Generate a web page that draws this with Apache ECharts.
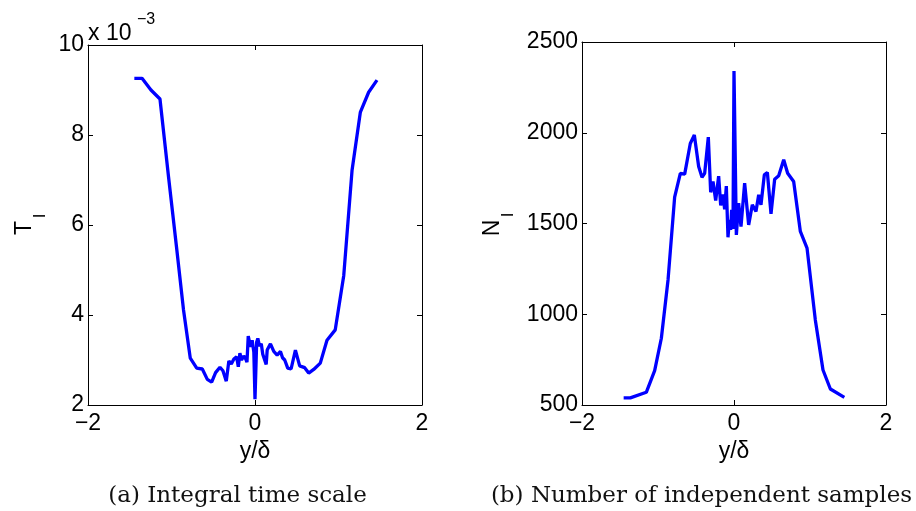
<!DOCTYPE html>
<html>
<head>
<meta charset="utf-8">
<script src="https://cdn.jsdelivr.net/npm/echarts@6/dist/echarts.min.js"></script>
<style>
  html, body { margin: 0; padding: 0; background: #fff; }
  #chart { width: 916px; height: 511px; }
</style>
</head>
<body>
<div id="chart"></div>
<script>
// Integral time scale T_I (in units of 1e-3) against y/delta
const yDeltaT = [-1.445, -1.353, -1.246, -1.138, -1.035, -0.940, -0.856, -0.775, -0.698, -0.631,
  -0.571, -0.519, -0.472, -0.420, -0.384, -0.344, -0.313, -0.284, -0.253, -0.220, -0.200,
  -0.181, -0.161, -0.135, -0.110, -0.096, -0.081, -0.054, -0.034, -0.014, 0.000, 0.020,
  0.034, 0.054, 0.075, 0.093, 0.134, 0.146, 0.185, 0.225, 0.265, 0.305, 0.330, 0.356,
  0.392, 0.432, 0.484, 0.535, 0.595, 0.643, 0.703, 0.782, 0.862, 0.961, 1.063, 1.162,
  1.262, 1.361, 1.461];
const integralTime = [9.26, 9.26, 9.00, 8.80, 7.06, 5.51, 4.11, 3.04, 2.82, 2.80,
  2.57, 2.51, 2.72, 2.84, 2.76, 2.53, 2.98, 2.91, 3.02, 3.07, 2.85,
  3.15, 3.00, 3.09, 3.02, 2.95, 3.53, 3.29, 3.44, 3.18, 2.13, 3.40,
  3.48, 3.31, 3.36, 3.13, 2.90, 3.22, 3.36, 3.19, 3.11, 3.19, 3.05, 3.00,
  2.82, 2.80, 3.22, 2.87, 2.83, 2.71, 2.79, 2.93, 3.44, 3.67, 4.88, 7.21,
  8.51, 8.95, 9.22];

// Number of independent samples N_I against y/delta
const yDeltaN = [-1.452, -1.364, -1.154, -1.044, -0.956, -0.868, -0.781, -0.706, -0.649, -0.575,
  -0.522, -0.465, -0.421, -0.386, -0.338, -0.307, -0.276, -0.241, -0.202, -0.175, -0.145,
  -0.123, -0.101, -0.079, -0.061, -0.044, -0.031, -0.013, 0.000, 0.031, 0.061, 0.092,
  0.140, 0.193, 0.241, 0.289, 0.325, 0.355, 0.399, 0.439, 0.487, 0.535, 0.588, 0.654,
  0.706, 0.785, 0.873, 0.961, 1.070, 1.171, 1.268, 1.452];
const sampleCount = [539, 539, 570, 689, 868, 1189, 1645, 1776, 1772, 1941,
  1988, 1814, 1755, 1776, 1976, 1672, 1731, 1626, 1761, 1600, 1660,
  1578, 1706, 1424, 1520, 1465, 1575, 1470, 2340, 1437, 1612, 1483,
  1722, 1492, 1603, 1566, 1658, 1603, 1768, 1781, 1553, 1744, 1763, 1851,
  1777, 1731, 1456, 1364, 969, 693, 588, 542];

// Axis ranges and tick steps
const xRange = [-2, 2], xStep = 2;
const tRange = [2, 10], tStep = 2;
const nRange = [500, 2500], nStep = 500;

const captions = ['(a) Integral time scale', '(b) Number of independent samples'];

const sans = 'Liberation Sans, Arial, Helvetica, sans-serif';
const serif = 'DejaVu Serif, serif';
const minusFmt = v => (v < 0 ? '\u2212' + Math.abs(v) : String(v));
const plainFmt = v => String(v);

function pairs(xs, ys) { return xs.map((x, i) => [x, ys[i]]); }

function xAx(grid, pos, labels) {
  return {
    type: 'value', gridIndex: grid, position: pos,
    min: xRange[0], max: xRange[1], interval: xStep,
    axisLine: { show: true, onZero: false, lineStyle: { color: '#000', width: 1 } },
    axisTick: { show: true, inside: true, length: 5, lineStyle: { color: '#000' } },
    axisLabel: { show: labels, formatter: minusFmt, color: '#000', fontFamily: sans, fontSize: 23, margin: 7 },
    splitLine: { show: false },
    name: labels ? 'y/\u03b4' : '', nameLocation: 'middle', nameGap: 32,
    nameTextStyle: { color: '#000', fontFamily: sans, fontSize: 23 }
  };
}
function yAx(grid, pos, labels, range, step) {
  return {
    type: 'value', gridIndex: grid, position: pos,
    min: range[0], max: range[1], interval: step,
    axisLine: { show: true, onZero: false, lineStyle: { color: '#000', width: 1 } },
    axisTick: { show: true, inside: true, length: 5, lineStyle: { color: '#000' } },
    axisLabel: { show: labels, formatter: plainFmt, color: '#000', fontFamily: sans, fontSize: 23, margin: 4 },
    splitLine: { show: false }
  };
}

const chart = echarts.init(document.getElementById('chart'), null, { renderer: 'canvas' });
chart.setOption({
  animation: false,
  backgroundColor: '#fff',
  grid: [
    { left: 88, top: 45, width: 334, height: 360 },
    { left: 582, top: 42, width: 304, height: 363 }
  ],
  xAxis: [xAx(0, 'bottom', true), xAx(0, 'top', false), xAx(1, 'bottom', true), xAx(1, 'top', false)],
  yAxis: [
    yAx(0, 'left', true, tRange, tStep), yAx(0, 'right', false, tRange, tStep),
    yAx(1, 'left', true, nRange, nStep), yAx(1, 'right', false, nRange, nStep)
  ],
  series: [
    {
      type: 'line', xAxisIndex: 0, yAxisIndex: 0, data: pairs(yDeltaT, integralTime),
      showSymbol: false, lineStyle: { color: '#0000ff', width: 3.3 }, itemStyle: { color: '#0000ff' }
    },
    {
      type: 'line', xAxisIndex: 2, yAxisIndex: 2, data: pairs(yDeltaN, sampleCount),
      showSymbol: false, lineStyle: { color: '#0000ff', width: 3.3 }, itemStyle: { color: '#0000ff' }
    }
  ],
  graphic: [
    // exponent multiplier over the left axis
    { type: 'text', left: 88, top: 22, style: { text: 'x 10', font: '23px ' + sans, fill: '#000' } },
    { type: 'text', left: 137, top: 12, style: { text: '\u22123', font: '16px ' + sans, fill: '#000' } },
    // rotated axis titles with subscripts
    { type: 'text', x: 25, y: 228, rotation: Math.PI / 2,
      style: { text: 'T', font: '23px ' + sans, fill: '#000', align: 'center', verticalAlign: 'middle' } },
    { type: 'text', x: 40, y: 216, rotation: Math.PI / 2,
      style: { text: 'I', font: '17px ' + sans, fill: '#000', align: 'center', verticalAlign: 'middle' } },
    { type: 'text', x: 493, y: 228, rotation: Math.PI / 2,
      style: { text: 'N', font: '23px ' + sans, fill: '#000', align: 'center', verticalAlign: 'middle' } },
    { type: 'text', x: 508, y: 215, rotation: Math.PI / 2,
      style: { text: 'I', font: '17px ' + sans, fill: '#000', align: 'center', verticalAlign: 'middle' } },
    // subfigure captions
    { type: 'text', x: 237.5, y: 496,
      style: { text: captions[0], font: '23px ' + serif, fill: '#111', align: 'center', verticalAlign: 'middle' } },
    { type: 'text', x: 701.5, y: 496,
      style: { text: captions[1], font: '23px ' + serif, fill: '#111', align: 'center', verticalAlign: 'middle' } }
  ]
});
</script>
</body>
</html>
